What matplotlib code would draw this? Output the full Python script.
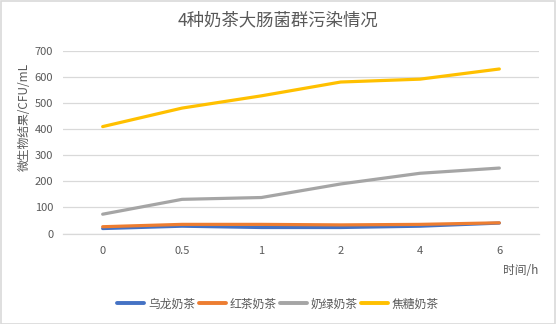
import matplotlib
matplotlib.use("Agg")
import matplotlib.pyplot as plt
from matplotlib.patches import Rectangle

plt.rcParams['font.family'] = ['Noto Sans CJK SC', 'DejaVu Sans']

times = ["0", "0.5", "1", "2", "4", "6"]
oolong = [19, 28, 23, 23, 28, 40]
black_tea = [26, 35, 35, 33, 35, 41]
green_milk = [74, 131, 138, 190, 231, 251]
caramel = [410, 481, 528, 581, 592, 631]
series_names = ["乌龙奶茶", "红茶奶茶", "奶绿奶茶", "焦糖奶茶"]
colors = ["#4472C4", "#ED7D31", "#A5A5A5", "#FFC000"]
yticks = [0, 100, 200, 300, 400, 500, 600, 700]

W, H = 556, 324
fig = plt.figure(figsize=(W / 100, H / 100), dpi=100)
ax = fig.add_axes([63 / W, 1 - 233.5 / H, (539 - 63) / W, (233.5 - 51) / H])

x = list(range(len(times)))
for vals, name, c in zip([oolong, black_tea, green_milk, caramel], series_names, colors):
    ax.plot(x, vals, color=c, lw=2.3, label=name, solid_capstyle='round', solid_joinstyle='round')

ax.set_xlim(-0.5, len(times) - 0.5)
ax.set_ylim(0, 700)
ax.set_yticks(yticks)
ax.set_xticks(x)
ax.set_xticklabels(times)
ax.grid(axis='y', color='#D9D9D9', lw=0.9)
ax.set_axisbelow(True)
for s in ['top', 'right', 'left']:
    ax.spines[s].set_visible(False)
ax.spines['bottom'].set_color('#D9D9D9')
ax.spines['bottom'].set_linewidth(0.9)
ax.tick_params(axis='both', length=0, labelsize=8, colors='#595959')
ax.tick_params(axis='y', pad=7)
ax.tick_params(axis='x', pad=9)

fig.text(0.5, 1 - 20 / H, "4种奶茶大肠菌群污染情况", ha='center', va='center', fontsize=12.5,
         color='#595959', fontweight='light')
fig.text(24 / W, 1 - 117 / H, "微生物结果/CFU/mL", ha='center', va='center', rotation=90, fontsize=8.5, color='#595959')
fig.text(538 / W, 1 - 270 / H, "时间/h", ha='right', va='center', fontsize=8.5, color='#595959')

leg = fig.legend(loc='center', bbox_to_anchor=(0.5, 1 - 304 / H), ncol=4, frameon=False,
                 fontsize=8.5, handlelength=2.3, handletextpad=0.3, columnspacing=0.3)
for t in leg.get_texts():
    t.set_color('#595959')
for l in leg.get_lines():
    l.set_linewidth(2.8)

fig.patches.append(Rectangle((0.5 / W, 0.5 / H), 1 - 1.5 / W, 1 - 1.5 / H, transform=fig.transFigure,
                             fill=False, edgecolor='#D9D9D9', lw=1.2))

fig.savefig("out.png", dpi=100)
